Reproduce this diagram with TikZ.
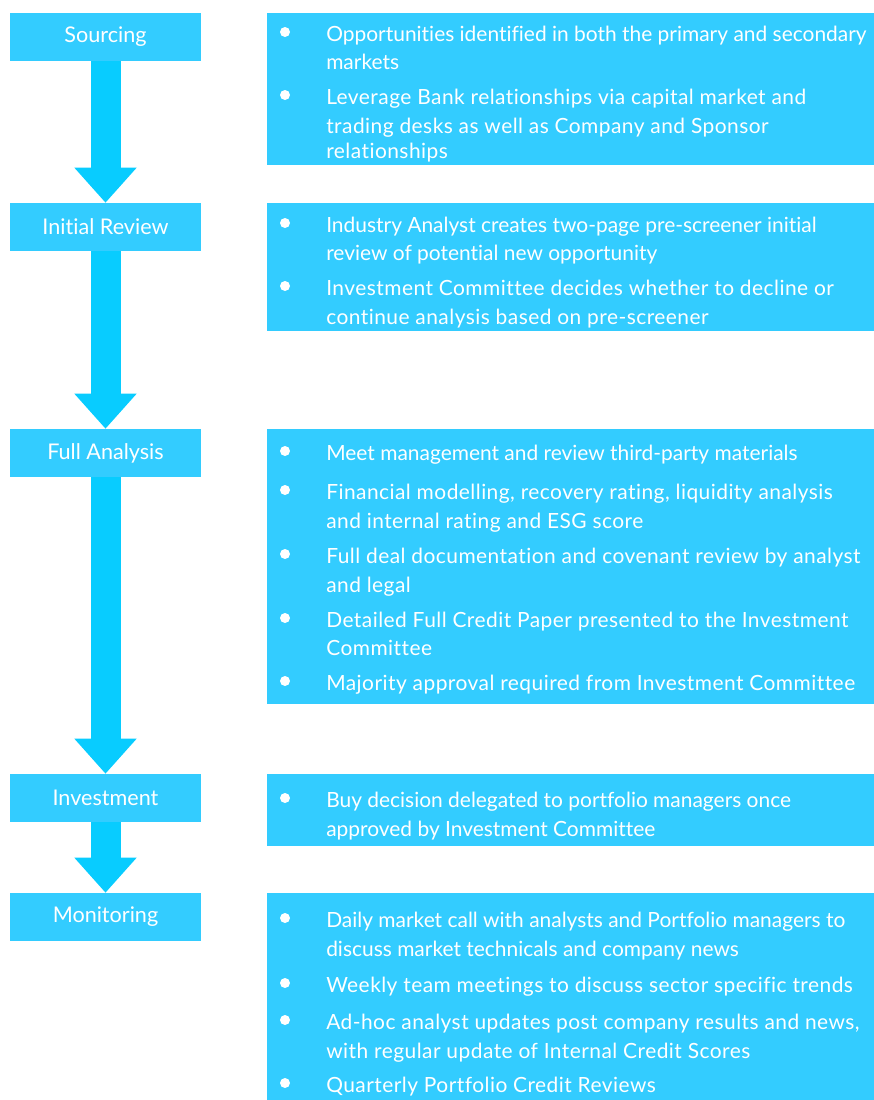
\documentclass[tikz,border=0pt]{standalone}
\usepackage{fontspec}
\setmainfont{Lato}[Ligatures={NoCommon,NoRequired,NoContextual}]
\usetikzlibrary{arrows.meta}
\definecolor{boxc}{HTML}{33CCFF}
\definecolor{arrc}{HTML}{08CCFF}
\newcommand{\itm}[3]{% name, y baseline, text (Lato look)
  \node[txt] (#1) at (326,#2) {#3};}
\newcommand{\itn}[3]{% name, y baseline, text (wider face)
  \node[txt] (#1) at (326,#2) {\addfontfeatures{LetterSpace=2.2}#3};}
\newcommand{\bul}[2]{\fill[white] (285,#2) circle (5) coordinate (#1);}
\begin{document}
\begin{tikzpicture}[x=0.75pt,y=-0.75pt,
  lbox/.style={fill=boxc, minimum width=191*0.75pt, minimum height=48*0.75pt, inner sep=0pt,
     text=white, font=\fontsize{16.2}{19}\selectfont},
  rbox/.style={fill=boxc, anchor=north west, inner sep=0pt, minimum width=607*0.75pt},
  txt/.style={anchor=base west, inner sep=0pt, text=white, font=\fontsize{15.7}{18}\selectfont},
  flow/.style={draw=arrc, line width=30*0.75pt, -{Triangle[length=35*0.75pt, width=60*0.75pt]}}]
\useasboundingbox (0,0) rectangle (874,1100);
% left labels
\node[lbox] (s1) at (105.5,37) {Sourcing};
\node[lbox] (s2) at (105.5,227) {Initial Review};
\node[lbox] (s3) at (105.5,453) {Full Analysis};
\node[lbox] (s4) at (105.5,798) {Investment};
\node[lbox] (s5) at (105.5,917) {Monitoring};
% arrows
\draw[flow] (s1.south) -- (s2.north);
\draw[flow] (s2.south) -- (s3.north);
\draw[flow] (s3.south) -- (s4.north);
\draw[flow] (s4.south) -- (s5.north);
% right boxes
\node[rbox, minimum height=152*0.75pt] (r1) at (267,13) {};
\node[rbox, minimum height=128*0.75pt] (r2) at (267,203) {};
\node[rbox, minimum height=275*0.75pt] (r3) at (267,429) {};
\node[rbox, minimum height=72*0.75pt] (r4) at (267,774) {};
\node[rbox, minimum height=207*0.75pt] (r5) at (267,893) {};
% Sourcing
\bul{b11}{32}
\itm{t11}{41}{Opportunities identified in both the primary and secondary}
\itm{t12}{69}{markets}
\bul{b12}{95}
\itn{t13}{104}{Leverage Bank relationships via capital market and}
\itn{t14}{133}{trading desks as well as Company and Sponsor}
\itn{t15}{158}{relationships}
% Initial review
\bul{b21}{223}
\itm{t21}{232}{Industry Analyst creates two-page pre-screener initial}
\itm{t22}{260}{review of potential new opportunity}
\bul{b22}{286}
\itn{t23}{295}{Investment Committee decides whether to decline or}
\itn{t24}{324}{continue analysis based on pre-screener}
% Full analysis
\bul{b31}{451}
\itm{t31}{460}{Meet management and review third-party materials}
\bul{b32}{490}
\itn{t32}{499}{Financial modelling, recovery rating, liquidity analysis}
\itn{t33}{528}{and internal rating and ESG score}
\bul{b33}{554}
\itn{t34}{563}{Full deal documentation and covenant review by analyst}
\itn{t35}{592}{and legal}
\bul{b34}{618}
\itn{t36}{627}{Detailed Full Credit Paper presented to the Investment}
\itn{t37}{655}{Committee}
\bul{b35}{681}
\itn{t38}{690}{Majority approval required from Investment Committee}
% Investment
\bul{b41}{798}
\itm{t41}{807}{Buy decision delegated to portfolio managers once}
\itm{t42}{836}{approved by Investment Committee}
% Monitoring
\bul{b51}{918}
\itm{t51}{927}{Daily market call with analysts and Portfolio managers to}
\itm{t52}{956}{discuss market technicals and company news}
\bul{b52}{983}
\itn{t53}{992}{Weekly team meetings to discuss sector specific trends}
\bul{b53}{1020}
\itn{t54}{1029}{Ad-hoc analyst updates post company results and news,}
\itn{t55}{1058}{with regular update of Internal Credit Scores}
\bul{b54}{1083}
\itn{t56}{1092}{Quarterly Portfolio Credit Reviews}
\end{tikzpicture}
\end{document}
